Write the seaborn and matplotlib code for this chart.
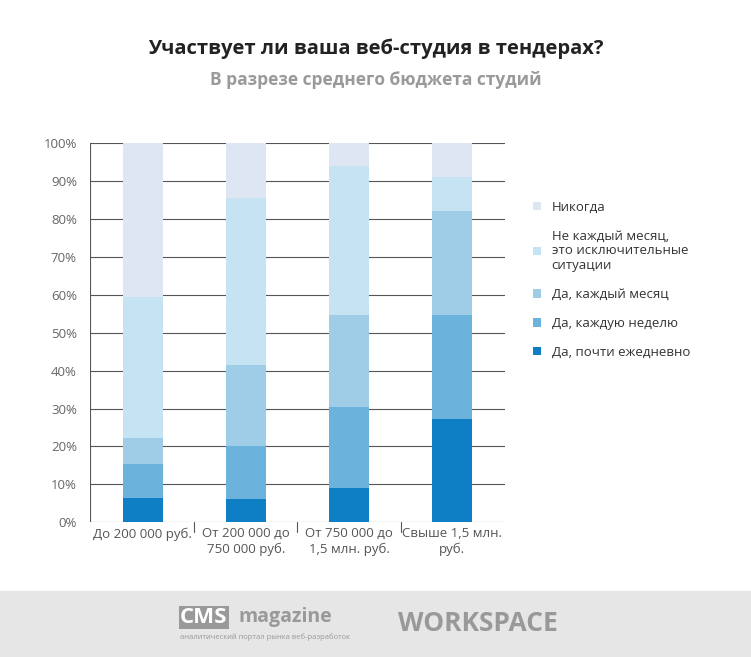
import matplotlib
matplotlib.use("Agg")
import matplotlib.pyplot as plt
import seaborn as sns
import pandas as pd
import numpy as np

categories = ["До 200 000 руб.", "От 200 000 до\n750 000 руб.", "От 750 000 до\n1,5 млн. руб.", "Свыше 1,5 млн.\nруб."]
series = ["Да, почти ежедневно", "Да, каждую неделю", "Да, каждый месяц",
          "Не каждый месяц,\nэто исключительные\nситуации", "Никогда"]
daily = [6.5, 6.2, 9.0, 27.2]
weekly = [9.0, 13.8, 21.5, 27.5]
monthly = [6.8, 21.6, 24.2, 27.3]
rare = [37.2, 44.0, 39.3, 9.0]
never = [40.5, 14.4, 6.0, 9.0]
colors = ["#0e7fc4", "#6bb3dd", "#9fcde8", "#c5e3f3", "#dde6f2"]

sns.set_theme(style="white")
plt.rcParams['font.family'] = ['Open Sans', 'DejaVu Sans']
fig = plt.figure(figsize=(7.51, 6.57), dpi=100)
ax = fig.add_axes([0.12, 0.205, 0.552, 0.577])

vals = [daily, weekly, monthly, rare, never]
bottom = np.zeros(4)
for name, v, c in zip(series, vals, colors):
    df = pd.DataFrame({"cat": categories, "v": v})
    sns.barplot(data=df, x="cat", y="v", bottom=bottom, color=c, width=0.39, ax=ax,
                saturation=1, label=name, zorder=3, linewidth=0)
    bottom += np.array(v)

ax.set_ylim(0, 100)
ax.set_xlim(-0.51, 3.51)
ax.set_yticks(np.arange(0, 101, 10))
ax.set_yticklabels([f"{t}%" for t in range(0, 101, 10)], color="#666666", fontsize=9.5)
ax.set_xlabel(""); ax.set_ylabel("")
ax.tick_params(axis='x', colors="#555555", labelsize=9.5, length=0)
for y in range(0, 101, 10):
    ax.axhline(y, color="#555555", lw=0.8, zorder=1)
for x in [0.5, 1.5, 2.5]:
    ax.plot([x, x], [0, -2.5], color="#555555", lw=0.8, clip_on=False)
for s in ax.spines.values():
    s.set_visible(False)
ax.plot([-0.51, -0.51], [0, 100], color="#555555", lw=0.8, zorder=1)

h, l = ax.get_legend_handles_labels()
ax.legend(h[::-1], l[::-1], loc="upper left", bbox_to_anchor=(1.04, 0.88), frameon=False,
          fontsize=9.5, handlelength=0.6, handleheight=0.6, labelspacing=1.2, labelcolor="#333333")

fig.text(0.5, 0.918, "Участвует ли ваша веб-студия в тендерах?", ha="center", fontsize=14.5,
         weight="bold", color="#222222")
fig.text(0.5, 0.87, "В разрезе среднего бюджета студий", ha="center", fontsize=12.5,
         weight="bold", color="#9a9a9a")

fig.patches.append(plt.Rectangle((0, 0), 1, 0.1, transform=fig.transFigure, color="#e6e6e6", zorder=0))
fig.text(0.24, 0.052, "CMS", fontsize=16, weight="bold", color="white",
         bbox=dict(facecolor="#999999", edgecolor="none", pad=1))
fig.text(0.318, 0.054, "magazine", fontsize=14, weight="bold", color="#999999")
fig.text(0.24, 0.027, "аналитический портал рынка веб-разработок", fontsize=5.5, color="#999999")
fig.text(0.53, 0.04, "WORKSPACE", fontsize=19, weight="bold", color="#999999")

fig.savefig("out.png", dpi=100)
